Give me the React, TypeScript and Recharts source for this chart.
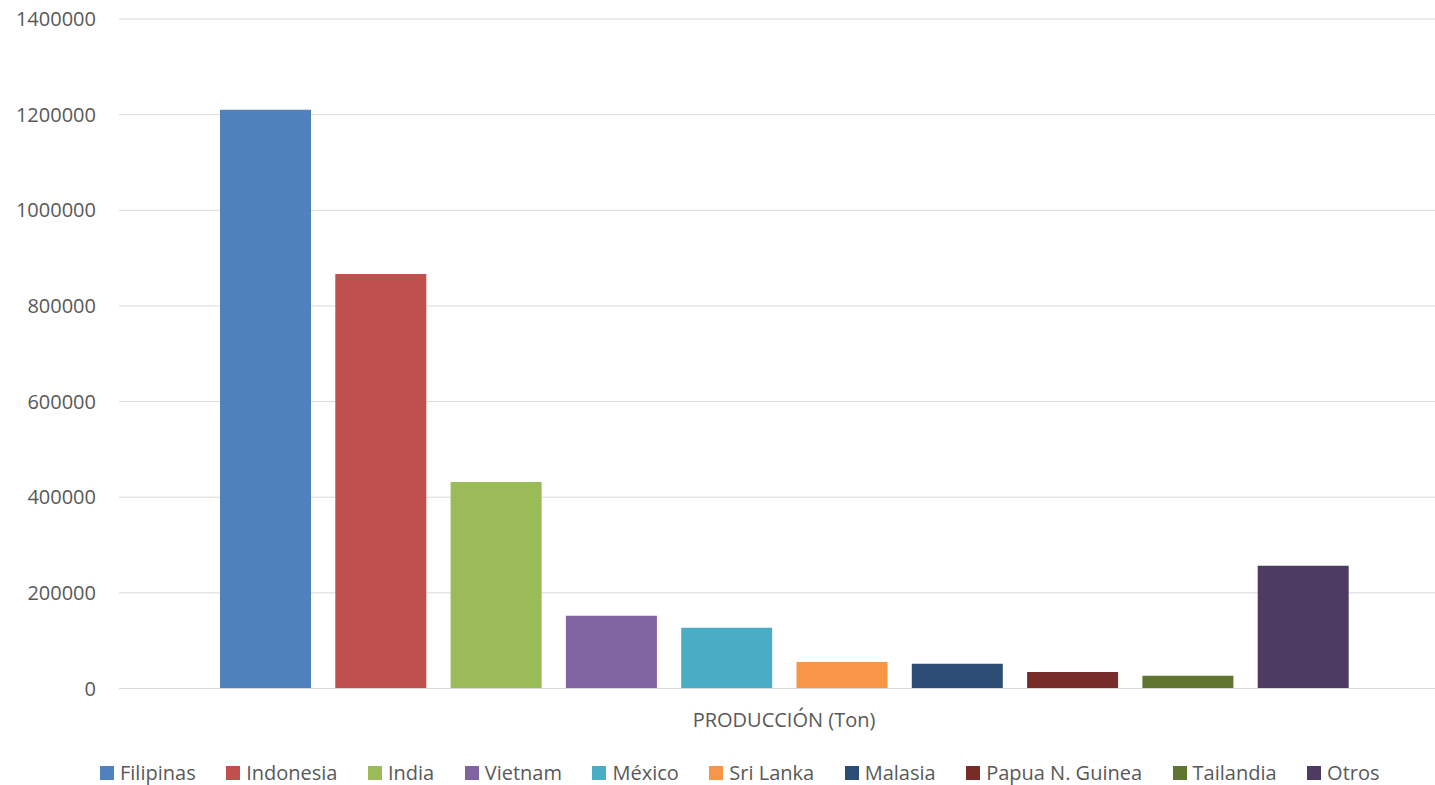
import { BarChart, Bar, XAxis, YAxis, CartesianGrid } from "recharts";

const category = "PRODUCCIÓN (Ton)";
const countries = ["Filipinas", "Indonesia", "India", "Vietnam", "México", "Sri Lanka", "Malasia", "Papua N. Guinea", "Tailandia", "Otros"];
const production = [1210000, 867000, 432000, 152000, 127000, 55500, 51500, 34500, 26500, 256500];
const colors = ["#4f81bd", "#c0504d", "#9bbb59", "#8064a2", "#4bacc6", "#f79646", "#2c4d75", "#772c2a", "#5f7530", "#4d3b62"];
const yTicks = [0, 200000, 400000, 600000, 800000, 1000000, 1200000, 1400000];

const FONT = "'Open Sans', 'Liberation Sans', sans-serif";
const TEXT = "#595959";

const row: Record<string, string | number> = { name: category };
countries.forEach((c, i) => { row[c] = production[i]; });
const data = [row];

export default function App() {
  return (
    <div style={{ position: "absolute", left: 0, top: 0, width: 1435, height: 785, overflow: "hidden", background: "#fff" }}>
      <BarChart width={1460} height={785} data={data} barSize={91} barGap={24.3}
        margin={{ top: 19, right: 11, bottom: 0, left: 0 }}>
        <CartesianGrid stroke="#d9d9d9" vertical={false} />
        <XAxis dataKey="name" height={96.5} tickLine={false} tickSize={0} tickMargin={24}
          axisLine={{ stroke: "#d9d9d9" }}
          tick={{ fill: TEXT, fontSize: 20, fontFamily: FONT }} />
        <YAxis width={119} domain={[0, 1400000]} ticks={yTicks} interval={0}
          axisLine={false} tickLine={false} tickSize={0} tickMargin={23}
          tick={{ fill: TEXT, fontSize: 20, fontFamily: FONT }} />
        {countries.map((c, i) => (
          <Bar key={c} dataKey={c} fill={colors[i]} isAnimationActive={false} />
        ))}
      </BarChart>
      <div style={{ position: "absolute", left: 100, top: 761, display: "flex", gap: "30.5px", fontFamily: FONT, fontSize: 20, lineHeight: "24px", color: TEXT, whiteSpace: "nowrap" }}>
        {countries.map((c, i) => (
          <div key={c} style={{ display: "flex", alignItems: "center", gap: "6px", height: 24 }}>
            <span style={{ width: 14, height: 14, background: colors[i], display: "inline-block" }} />
            <span>{c}</span>
          </div>
        ))}
      </div>
    </div>
  );
}
